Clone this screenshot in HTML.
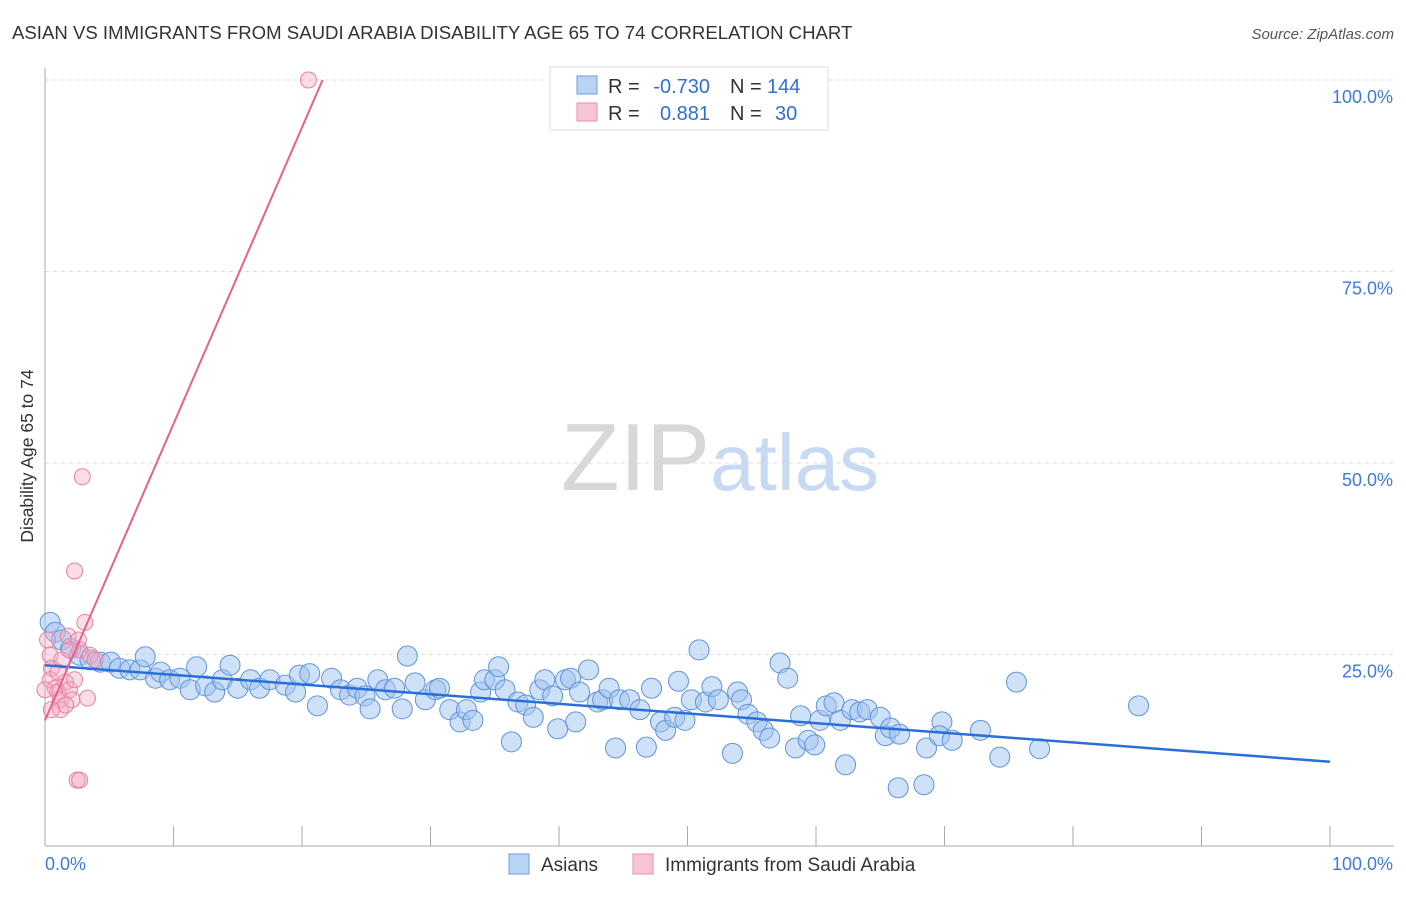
<!DOCTYPE html>
<html><head><meta charset="utf-8"><style>
body{margin:0;background:#fff;font-family:"Liberation Sans",sans-serif}
svg text{font-family:"Liberation Sans",sans-serif}
</style></head><body>
<svg width="1406" height="892" viewBox="0 0 1406 892" xmlns="http://www.w3.org/2000/svg">
<text x="12" y="39" font-size="18.6" fill="#333">ASIAN VS IMMIGRANTS FROM SAUDI ARABIA DISABILITY AGE 65 TO 74 CORRELATION CHART</text>
<text x="1394" y="39" font-size="15" fill="#555" text-anchor="end" font-style="italic">Source: ZipAtlas.com</text>
<g id="grid"></g>
<text x="720" y="490" font-size="96" text-anchor="middle" fill="#ddd" font-family="Liberation Serif"><tspan fill="#d8d8d8">ZIP</tspan><tspan fill="#c8daf2" font-family="Liberation Sans" font-size="80">atlas</tspan></text>
<text transform="translate(33,456) rotate(-90)" font-size="17.5" fill="#333" text-anchor="middle">Disability Age 65 to 74</text>
<g id="pts"></g>
<g id="lines"></g>
<g>
<rect x="550" y="67" width="278" height="63" fill="#fff" stroke="#ddd"/>
<rect x="577" y="76" width="20" height="18" fill="#b9d3f5" stroke="#6d9be0"/>
<rect x="577" y="103" width="20" height="18" fill="#f9c4d4" stroke="#eb8fac"/>
<text x="608" y="93" font-size="20" fill="#333">R =</text>
<text x="710" y="93" font-size="20" fill="#2f6fd6" text-anchor="end">-0.730</text>
<text x="730" y="93" font-size="20" fill="#333">N =</text>
<text x="767" y="93" font-size="20" fill="#2f6fd6">144</text>
<text x="608" y="120" font-size="20" fill="#333">R =</text>
<text x="710" y="120" font-size="20" fill="#2f6fd6" text-anchor="end">0.881</text>
<text x="730" y="120" font-size="20" fill="#333">N =</text>
<text x="775" y="120" font-size="20" fill="#2f6fd6">30</text>
</g>
<g>
<rect x="509" y="854" width="20" height="20" fill="#b9d3f5" stroke="#6d9be0"/>
<text x="541" y="871" font-size="19" fill="#333">Asians</text>
<rect x="633" y="854" width="20" height="20" fill="#f9c4d4" stroke="#eb8fac"/>
<text x="665" y="871" font-size="19" fill="#333">Immigrants from Saudi Arabia</text>
</g>
</svg>
<script>
const yTicks=[25,50,75,100];
const yTickLabels=["25.0%","50.0%","75.0%","100.0%"];
const xTicks=[0,10,20,30,40,50,60,70,80,90,100];
const asianX=[0.4,0.8,1.3,2.0,2.7,3.5,4.3,5.1,5.8,6.6,7.4,7.8,8.6,9.0,9.7,10.5,11.3,11.8,12.5,13.2,13.8,14.4,15.0,16.0,16.7,17.5,18.7,19.5,19.8,20.6,21.2,22.3,23.0,23.7,24.3,24.9,25.3,25.9,26.5,27.2,27.8,28.2,28.8,29.6,30.4,30.7,31.5,32.3,32.8,33.3,33.9,34.2,35.0,35.3,35.8,36.3,36.8,37.4,38.0,38.5,38.9,39.5,39.9,40.5,40.9,41.3,41.6,42.3,43.0,43.4,43.9,44.4,44.7,45.5,46.3,46.8,47.2,47.9,48.3,49.0,49.3,49.8,50.3,50.9,51.4,51.9,52.4,53.5,53.9,54.2,54.7,55.4,55.9,56.4,57.2,57.8,58.4,58.8,59.4,59.9,60.3,60.8,61.4,61.9,62.3,62.8,63.4,64.0,65.0,65.4,65.8,66.5,66.4,68.4,68.6,69.8,69.6,70.6,72.8,74.3,75.6,77.4,85.1];
const asianY=[29.2,27.9,26.9,25.8,24.9,24.3,24.0,24.0,23.2,23.0,23.0,24.7,21.9,22.7,21.7,21.9,20.4,23.4,20.9,20.1,21.7,23.6,20.6,21.7,20.6,21.7,21.0,20.1,22.3,22.5,18.3,21.9,20.4,19.7,20.6,19.6,17.9,21.7,20.4,20.6,17.9,24.8,21.3,19.1,20.4,20.6,17.8,16.2,17.8,16.4,20.1,21.7,21.7,23.4,20.4,13.6,18.8,18.4,16.8,20.4,21.7,19.6,15.3,21.7,21.9,16.2,20.1,23.0,18.8,19.1,20.6,12.8,19.1,19.1,17.8,12.9,20.6,16.2,15.1,16.8,21.5,16.4,19.1,25.6,18.8,20.8,19.1,12.1,20.1,19.1,17.2,16.2,15.1,14.1,23.9,21.9,12.8,17.0,13.8,13.2,16.4,18.3,18.7,16.4,10.6,17.8,17.5,17.8,16.8,14.4,15.4,14.6,7.6,8.0,12.8,16.2,14.4,13.8,15.1,11.6,21.4,12.7,18.3];
const saudiX=[0.2,0.4,0.5,0.4,0.8,1.0,1.2,1.2,1.6,1.8,1.9,2.1,2.3,2.6,2.7,3.1,2.3,2.9,2.5,2.7,3.3,3.5,20.5,0,1.3,1.6,1.9,0.5,1.0,3.9];
const saudiY=[26.9,24.9,23.2,21.7,20.6,20.1,19.1,17.8,21.4,27.4,20.4,19.1,21.7,26.9,25.6,29.2,35.9,48.2,8.6,8.6,19.3,24.9,100,20.4,24.3,18.4,25.6,17.8,22.7,24.3];
const asianLine=[[0,23.6],[100,11.0]];
const saudiLine=[[0,16.4],[21.6,100]];
const NS="http://www.w3.org/2000/svg";
const X0=45,X1=1330,Y0=846,Y100=80;
const sx=v=>X0+(X1-X0)*v/100, sy=v=>Y0-(Y0-Y100)*v/100;
function mk(tag,attrs,parent){const e=document.createElementNS(NS,tag);for(const k in attrs)e.setAttribute(k,attrs[k]);parent.appendChild(e);return e;}
const grid=document.getElementById('grid');
yTicks.forEach((t,i)=>{
 const l=mk('line',{x1:X0,x2:1394,y1:sy(t),y2:sy(t),stroke:'#ddd','stroke-dasharray':'4,4'},grid);
 
 
 const tx=mk('text',{x:1393,y:sy(t)+23,'font-size':18,fill:'#3d7bd9','text-anchor':'end'},grid);
 tx.textContent=yTickLabels[i];
 
 
});
const ax=mk('line',{x1:X0,x2:X0,y1:68,y2:Y0,stroke:'#aaa'},grid);


const bx=mk('line',{x1:X0,x2:1394,y1:Y0,y2:Y0,stroke:'#aaa'},grid);


xTicks.forEach(t=>{const l=mk('line',{x1:sx(t),x2:sx(t),y1:826,y2:Y0,stroke:'#aaa'},grid);
 
 });
[[0,'0.0%','start',45],[100,'100.0%','end',1393]].forEach(a=>{const t=mk('text',{x:a[3],y:870,'font-size':18,fill:'#3d7bd9','text-anchor':a[2]},grid);t.textContent=a[1];
 
 });
const pts=document.getElementById('pts');
asianX.forEach((x,i)=>{const c=mk('circle',{cx:sx(x),cy:sy(asianY[i]),r:10,fill:'rgba(160,195,240,0.5)',stroke:'#5f93dc','stroke-width':1},pts);
 
 });
saudiX.forEach((x,i)=>{const c=mk('circle',{cx:sx(x),cy:sy(saudiY[i]),r:8,fill:'rgba(245,170,195,0.4)',stroke:'#e8809f','stroke-width':1},pts);
 
 });
const lines=document.getElementById('lines');
const l1=mk('line',{x1:sx(asianLine[0][0]),y1:sy(asianLine[0][1]),x2:sx(asianLine[1][0]),y2:sy(asianLine[1][1]),stroke:'#2a6fd8','stroke-width':2.5},lines);


const l2=mk('line',{x1:sx(saudiLine[0][0]),y1:sy(saudiLine[0][1]),x2:sx(saudiLine[1][0]),y2:sy(saudiLine[1][1]),stroke:'#e8608f','stroke-width':2},lines);


</script>
</body></html>
